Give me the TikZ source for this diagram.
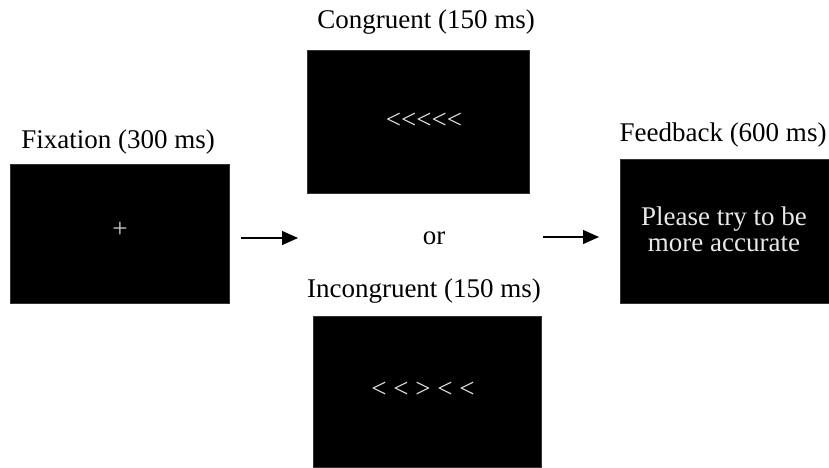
\documentclass[tikz,border=0pt]{standalone}
\usepackage{fontspec}
\setmainfont{Liberation Serif}
\usetikzlibrary{arrows.meta}
\definecolor{screentext}{HTML}{E8E8E8}
\definecolor{crossgray}{HTML}{C8C8C8}
\begin{document}
\begin{tikzpicture}[x=1pt,y=-1pt,
  screen/.style={fill=black, draw=black!80, line width=0.5pt, inner sep=0pt},
  caption/.style={anchor=base, inner sep=0pt, font=\fontsize{27}{31}\selectfont},
  stim/.style={inner sep=0pt, text=screentext, font=\fontsize{27}{31}\selectfont},
  flow/.style={line width=1.3pt, -{Triangle[length=16pt, width=14pt]}}]
  \useasboundingbox (0,0) rectangle (829,467);

  % stimulus screens
  \node[screen, minimum width=219pt, minimum height=139pt] (fix) at (119.5,233.5) {};
  \node[screen, minimum width=222pt, minimum height=143pt] (cong) at (418,121.5) {};
  \node[screen, minimum width=228pt, minimum height=151pt] (incong) at (427,391.5) {};
  \node[screen, minimum width=209pt, minimum height=144pt] (fb) at (724.5,231) {};

  % captions
  \node[caption] (fixlab) at (118,148) {Fixation (300 ms)};
  \node[caption] (conglab) at (426,28) {Congruent (150 ms)};
  \node[caption] (incronglab) at (424,297) {Incongruent (150 ms)};
  \node[caption] (fblab) at (723,141) {Feedback (600 ms)};

  % screen contents
  \node[stim, text=crossgray] (cross) at (120,230) {+};
  \node[stim] (congarrows) at (424,121) {<{}<{}<{}<{}<};
  \node[stim] (incongarrows) at (423,390) {< < > < <};
  \node[stim, anchor=base] (fb1) at (724,225) {Please try to be};
  \node[stim, anchor=base] (fb2) at (724,251) {more accurate};

  % alternative marker
  \node[inner sep=0pt, font=\fontsize{27}{31}\selectfont] (or) at (434,238) {or};

  % flow arrows
  \coordinate (a1s) at (241,238);
  \coordinate (a1e) at (298,238);
  \coordinate (a2s) at (543,237);
  \coordinate (a2e) at (599,237);
  \draw[flow] (a1s) -- (a1e);
  \draw[flow] (a2s) -- (a2e);
\end{tikzpicture}
\end{document}
